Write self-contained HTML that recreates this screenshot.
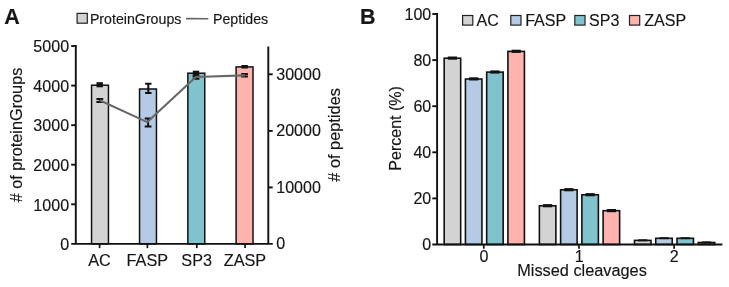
<!DOCTYPE html><html><head><meta charset="utf-8"><title>Figure</title><style>html,body{margin:0;padding:0;background:#fff}svg{display:block}text{font-family:"Liberation Sans",Arial,sans-serif;fill:#161616;stroke:#161616;stroke-width:0.15px}</style></head><body>
<svg width="729" height="287" viewBox="0 0 729 287">
<rect width="729" height="287" fill="#fff"/>
<text x="4.3" y="24.2" font-size="21.5" font-weight="bold">A</text>
<rect x="77.1" y="13.4" width="10.2" height="9.8" fill="#d3d3d3" stroke="#222" stroke-width="1.2"/>
<text x="89.9" y="23.8" font-size="14.2">ProteinGroups</text>
<line x1="186" y1="18.6" x2="208.3" y2="18.7" stroke="#666" stroke-width="1.6"/>
<text x="213" y="23.9" font-size="14.2">Peptides</text>
<rect x="91.55" y="85.2" width="16.9" height="158.7" fill="#d3d3d3" stroke="#111" stroke-width="1.5"/>
<rect x="96.5" y="82.20" width="6.4" height="5.10" fill="#111"/>
<rect x="139.55" y="89.0" width="16.9" height="154.9" fill="#b5cbe5" stroke="#111" stroke-width="1.5"/>
<path d="M148.3 83.7V93.0M145.1 83.7h6.4M145.1 93.0h6.4" stroke="#111" stroke-width="2.05" fill="none"/>
<rect x="187.85" y="73.2" width="16.9" height="170.7" fill="#80c3cc" stroke="#111" stroke-width="1.5"/>
<rect x="192.8" y="70.70" width="6.4" height="5.00" fill="#111"/>
<rect x="236.10" y="66.9" width="16.9" height="177.0" fill="#ffb3ae" stroke="#111" stroke-width="1.5"/>
<rect x="241.4" y="65.00" width="6.4" height="3.50" fill="#111"/>
<path d="M99.8 98.9V101.9M96.4 98.9h6.8M96.4 101.9h6.8" stroke="#111" stroke-width="2.0" fill="none"/>
<path d="M148.1 118.6V126.6M144.7 118.6h6.8M144.7 126.6h6.8" stroke="#111" stroke-width="2.0" fill="none"/>
<path d="M196.0 76.3V78.7M192.6 76.3h6.8M192.6 78.7h6.8" stroke="#111" stroke-width="2.0" fill="none"/>
<path d="M244.5 74.0V76.5M241.1 74.0h6.8M241.1 76.5h6.8" stroke="#111" stroke-width="2.0" fill="none"/>
<polyline fill="none" stroke="#686868" stroke-width="2.1" stroke-linejoin="round" points="99.6,100.3 147.3,122.1 195.8,77.0 245.0,75.4"/>
<path d="M75.8 45.1V243.9M71.2 243.9H272.8M268.3 244.8V46.5" stroke="#111" stroke-width="1.9" fill="none"/>
<text transform="translate(69.10,250.10) scale(1.03,1)" font-size="15.6" text-anchor="end">0</text>
<line x1="71.2" y1="204.3" x2="75.8" y2="204.3" stroke="#111" stroke-width="1.9"/>
<text transform="translate(69.10,210.52) scale(1.03,1)" font-size="15.6" text-anchor="end">1000</text>
<line x1="71.2" y1="164.7" x2="75.8" y2="164.7" stroke="#111" stroke-width="1.9"/>
<text transform="translate(69.10,170.94) scale(1.03,1)" font-size="15.6" text-anchor="end">2000</text>
<line x1="71.2" y1="125.2" x2="75.8" y2="125.2" stroke="#111" stroke-width="1.9"/>
<text transform="translate(69.10,131.36) scale(1.03,1)" font-size="15.6" text-anchor="end">3000</text>
<line x1="71.2" y1="85.6" x2="75.8" y2="85.6" stroke="#111" stroke-width="1.9"/>
<text transform="translate(69.10,91.78) scale(1.03,1)" font-size="15.6" text-anchor="end">4000</text>
<line x1="71.2" y1="46.0" x2="75.8" y2="46.0" stroke="#111" stroke-width="1.9"/>
<text transform="translate(69.10,52.20) scale(1.03,1)" font-size="15.6" text-anchor="end">5000</text>
<text transform="translate(276.20,249.30) scale(1.03,1)" font-size="15.6" text-anchor="start">0</text>
<line x1="268.3" y1="187.4" x2="272.7" y2="187.4" stroke="#111" stroke-width="1.9"/>
<text transform="translate(276.20,192.73) scale(1.03,1)" font-size="15.6" text-anchor="start">10000</text>
<line x1="268.3" y1="130.9" x2="272.7" y2="130.9" stroke="#111" stroke-width="1.9"/>
<text transform="translate(276.20,136.17) scale(1.03,1)" font-size="15.6" text-anchor="start">20000</text>
<line x1="268.3" y1="74.3" x2="272.7" y2="74.3" stroke="#111" stroke-width="1.9"/>
<text transform="translate(276.20,79.60) scale(1.03,1)" font-size="15.6" text-anchor="start">30000</text>
<line x1="99.6" y1="243.9" x2="99.6" y2="248.1" stroke="#111" stroke-width="1.7"/>
<text transform="translate(99.50,266.10) scale(1.03,1)" font-size="15.8" text-anchor="middle">AC</text>
<line x1="147.4" y1="243.9" x2="147.4" y2="248.1" stroke="#111" stroke-width="1.7"/>
<text transform="translate(147.30,266.10) scale(1.03,1)" font-size="15.8" text-anchor="middle">FASP</text>
<line x1="196.8" y1="243.9" x2="196.8" y2="248.1" stroke="#111" stroke-width="1.7"/>
<text transform="translate(196.70,266.10) scale(1.03,1)" font-size="15.8" text-anchor="middle">SP3</text>
<line x1="245.05" y1="243.9" x2="245.05" y2="248.1" stroke="#111" stroke-width="1.7"/>
<text transform="translate(244.95,266.10) scale(1.03,1)" font-size="15.8" text-anchor="middle">ZASP</text>
<text transform="translate(21.8,135) rotate(-90)" font-size="16.25" text-anchor="middle"># of proteinGroups</text>
<text transform="translate(340.3,134.9) rotate(-90)" font-size="16.35" text-anchor="middle"># of peptides</text>
<text x="360" y="23.8" font-size="21.5" font-weight="bold">B</text>
<rect x="462.6" y="15.5" width="10.2" height="9.6" fill="#d3d3d3" stroke="#222" stroke-width="1.2"/>
<text transform="translate(476.60,25.50) scale(1.03,1)" font-size="15.6" text-anchor="start">AC</text>
<rect x="510.8" y="15.5" width="10.2" height="9.6" fill="#b5cbe5" stroke="#222" stroke-width="1.2"/>
<text transform="translate(525.20,25.50) scale(1.03,1)" font-size="15.6" text-anchor="start">FASP</text>
<rect x="574.8000000000001" y="15.5" width="10.2" height="9.6" fill="#80c3cc" stroke="#222" stroke-width="1.2"/>
<text transform="translate(589.00,25.50) scale(1.03,1)" font-size="15.6" text-anchor="start">SP3</text>
<rect x="629.5" y="15.5" width="10.2" height="9.6" fill="#ffb3ae" stroke="#222" stroke-width="1.2"/>
<text transform="translate(644.20,25.50) scale(1.03,1)" font-size="15.6" text-anchor="start">ZASP</text>
<rect x="444.18" y="58.2" width="16.5" height="186.3" fill="#d3d3d3" stroke="#111" stroke-width="1.6"/>
<path d="M447.8 58.1h9.2" stroke="#111" stroke-width="3.2" fill="none"/>
<rect x="465.43" y="79.0" width="16.5" height="165.5" fill="#b5cbe5" stroke="#111" stroke-width="1.6"/>
<path d="M469.1 78.9h9.2" stroke="#111" stroke-width="3.2" fill="none"/>
<rect x="486.68" y="72.1" width="16.5" height="172.4" fill="#80c3cc" stroke="#111" stroke-width="1.6"/>
<path d="M490.3 72.0h9.2" stroke="#111" stroke-width="3.2" fill="none"/>
<rect x="507.92" y="51.4" width="16.5" height="193.1" fill="#ffb3ae" stroke="#111" stroke-width="1.6"/>
<path d="M511.6 51.3h9.2" stroke="#111" stroke-width="3.2" fill="none"/>
<rect x="539.38" y="205.8" width="16.5" height="38.7" fill="#d3d3d3" stroke="#111" stroke-width="1.6"/>
<path d="M543.0 205.7h9.2" stroke="#111" stroke-width="3.2" fill="none"/>
<rect x="560.62" y="189.8" width="16.5" height="54.7" fill="#b5cbe5" stroke="#111" stroke-width="1.6"/>
<path d="M564.3 189.7h9.2" stroke="#111" stroke-width="3.2" fill="none"/>
<rect x="581.88" y="194.8" width="16.5" height="49.7" fill="#80c3cc" stroke="#111" stroke-width="1.6"/>
<path d="M585.5 194.7h9.2" stroke="#111" stroke-width="3.2" fill="none"/>
<rect x="603.12" y="210.7" width="16.5" height="33.8" fill="#ffb3ae" stroke="#111" stroke-width="1.6"/>
<path d="M606.8 210.6h9.2" stroke="#111" stroke-width="3.2" fill="none"/>
<rect x="634.48" y="240.4" width="16.5" height="4.1" fill="#d3d3d3" stroke="#111" stroke-width="1.6"/>
<path d="M638.1 240.3h9.2" stroke="#111" stroke-width="2.0" fill="none"/>
<rect x="655.73" y="238.3" width="16.5" height="6.2" fill="#b5cbe5" stroke="#111" stroke-width="1.6"/>
<path d="M659.4 238.2h9.2" stroke="#111" stroke-width="2.0" fill="none"/>
<rect x="676.98" y="238.3" width="16.5" height="6.2" fill="#80c3cc" stroke="#111" stroke-width="1.6"/>
<path d="M680.6 238.2h9.2" stroke="#111" stroke-width="2.0" fill="none"/>
<rect x="698.23" y="242.5" width="16.5" height="2.0" fill="#ffb3ae" stroke="#111" stroke-width="1.6"/>
<path d="M701.9 242.4h9.2" stroke="#111" stroke-width="2.0" fill="none"/>
<path d="M437.1 13.1V244.5M432.3 244.5H722.4" stroke="#111" stroke-width="1.9" fill="none"/>
<text transform="translate(431.30,250.00) scale(1.03,1)" font-size="15.6" text-anchor="end">0</text>
<line x1="432.3" y1="198.4" x2="437.1" y2="198.4" stroke="#111" stroke-width="1.9"/>
<text transform="translate(431.30,203.90) scale(1.03,1)" font-size="15.6" text-anchor="end">20</text>
<line x1="432.3" y1="152.3" x2="437.1" y2="152.3" stroke="#111" stroke-width="1.9"/>
<text transform="translate(431.30,157.80) scale(1.03,1)" font-size="15.6" text-anchor="end">40</text>
<line x1="432.3" y1="106.2" x2="437.1" y2="106.2" stroke="#111" stroke-width="1.9"/>
<text transform="translate(431.30,111.70) scale(1.03,1)" font-size="15.6" text-anchor="end">60</text>
<line x1="432.3" y1="60.1" x2="437.1" y2="60.1" stroke="#111" stroke-width="1.9"/>
<text transform="translate(431.30,65.60) scale(1.03,1)" font-size="15.6" text-anchor="end">80</text>
<line x1="432.3" y1="14.0" x2="437.1" y2="14.0" stroke="#111" stroke-width="1.9"/>
<text transform="translate(431.30,19.50) scale(1.03,1)" font-size="15.6" text-anchor="end">100</text>
<line x1="483.8" y1="244.5" x2="483.8" y2="248.7" stroke="#111" stroke-width="1.7"/>
<text transform="translate(484.00,261.80) scale(1.03,1)" font-size="15.6" text-anchor="middle">0</text>
<line x1="579.0" y1="244.5" x2="579.0" y2="248.7" stroke="#111" stroke-width="1.7"/>
<text transform="translate(579.20,261.80) scale(1.03,1)" font-size="15.6" text-anchor="middle">1</text>
<line x1="674.1" y1="244.5" x2="674.1" y2="248.7" stroke="#111" stroke-width="1.7"/>
<text transform="translate(674.30,261.80) scale(1.03,1)" font-size="15.6" text-anchor="middle">2</text>
<text transform="translate(582.00,276.40) scale(1.03,1)" font-size="15.85" text-anchor="middle">Missed cleavages</text>
<text transform="translate(400.9,128.4) rotate(-90)" font-size="16" text-anchor="middle">Percent (%)</text>
</svg></body></html>
